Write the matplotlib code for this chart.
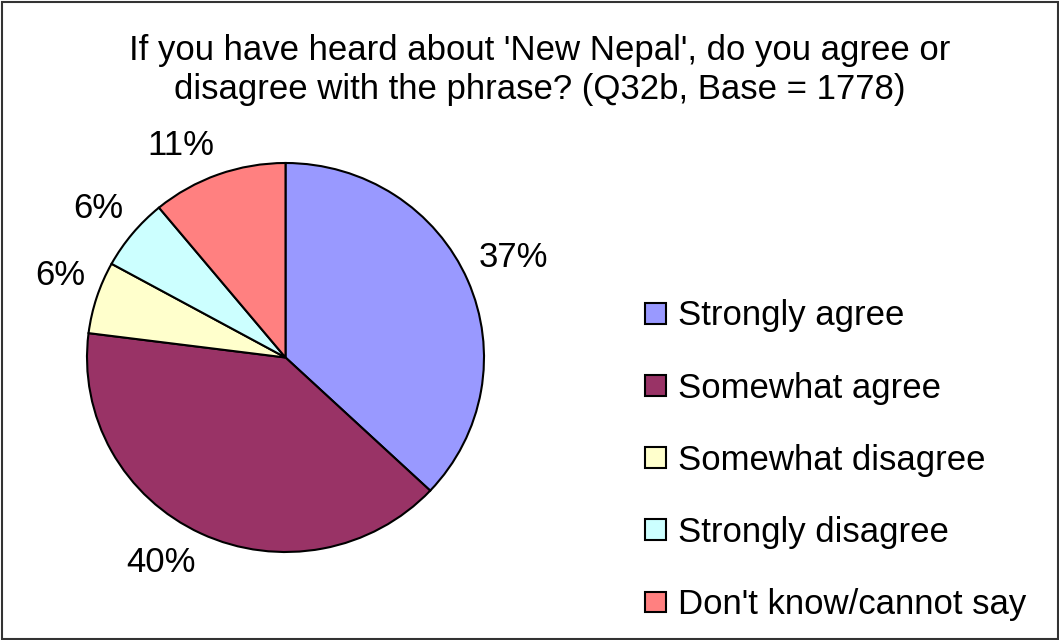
import numpy as np
import matplotlib
matplotlib.use("Agg")
import matplotlib.pyplot as plt
from matplotlib.patches import Patch, Rectangle

plt.rcParams['font.family'] = ['Liberation Sans', 'DejaVu Sans']

categories = ["Strongly agree", "Somewhat agree", "Somewhat disagree",
              "Strongly disagree", "Don't know/cannot say"]
values = [37, 40, 6, 6, 11]
colors = ["#9999FF", "#993366", "#FFFFCC", "#CCFFFF", "#FF8080"]
title = "If you have heard about 'New Nepal', do you agree or\ndisagree with the phrase? (Q32b, Base = 1778)"

W, H = 1059, 640
fig = plt.figure(figsize=(W / 100, H / 100), dpi=100)

# outer frame
fig.patches.append(Rectangle((1.5 / W, 1.5 / H), 1 - 3 / W, 1 - 3 / H,
                             transform=fig.transFigure, fill=False,
                             edgecolor="#333333", linewidth=1.5))

# pie area (pixels): centre and radii
cx, cy, rx, ry = 285.5, 357.5, 198.5, 194.5
ax = fig.add_axes([(cx - rx) / W, (H - cy - ry) / H, 2 * rx / W, 2 * ry / H])
wedges, _ = ax.pie(values, colors=colors, startangle=90, counterclock=False,
                   wedgeprops=dict(edgecolor="black", linewidth=1.5))
ax.set_xlim(-1, 1)
ax.set_ylim(-1, 1)
ax.set_aspect("auto")

# percentage labels just outside each wedge
gap = 1.06
for w, v in zip(wedges, values):
    mid = np.deg2rad((w.theta1 + w.theta2) / 2)
    c, s = np.cos(mid), np.sin(mid)
    ax.annotate(f"{v}%", xy=(gap * c, gap * s), xycoords="data",
                xytext=(0, 18 * np.sign(s)), textcoords="offset pixels",
                ha="left" if c > 0 else "right", va="center",
                fontsize=25, color="black", annotation_clip=False)

fig.text(540 / W, 1 - 70 / H, title, ha="center", va="center",
         fontsize=25, linespacing=1.2)

handles = [Patch(facecolor=c, edgecolor="black", linewidth=1.5) for c in colors]
fig.legend(handles, categories, loc="upper left",
           bbox_to_anchor=(628 / W, 1 - 282 / H), frameon=False,
           fontsize=25, handlelength=0.6, handleheight=0.55,
           handletextpad=0.35, labelspacing=1.13, borderpad=0)

fig.savefig("out.png", dpi=100)
